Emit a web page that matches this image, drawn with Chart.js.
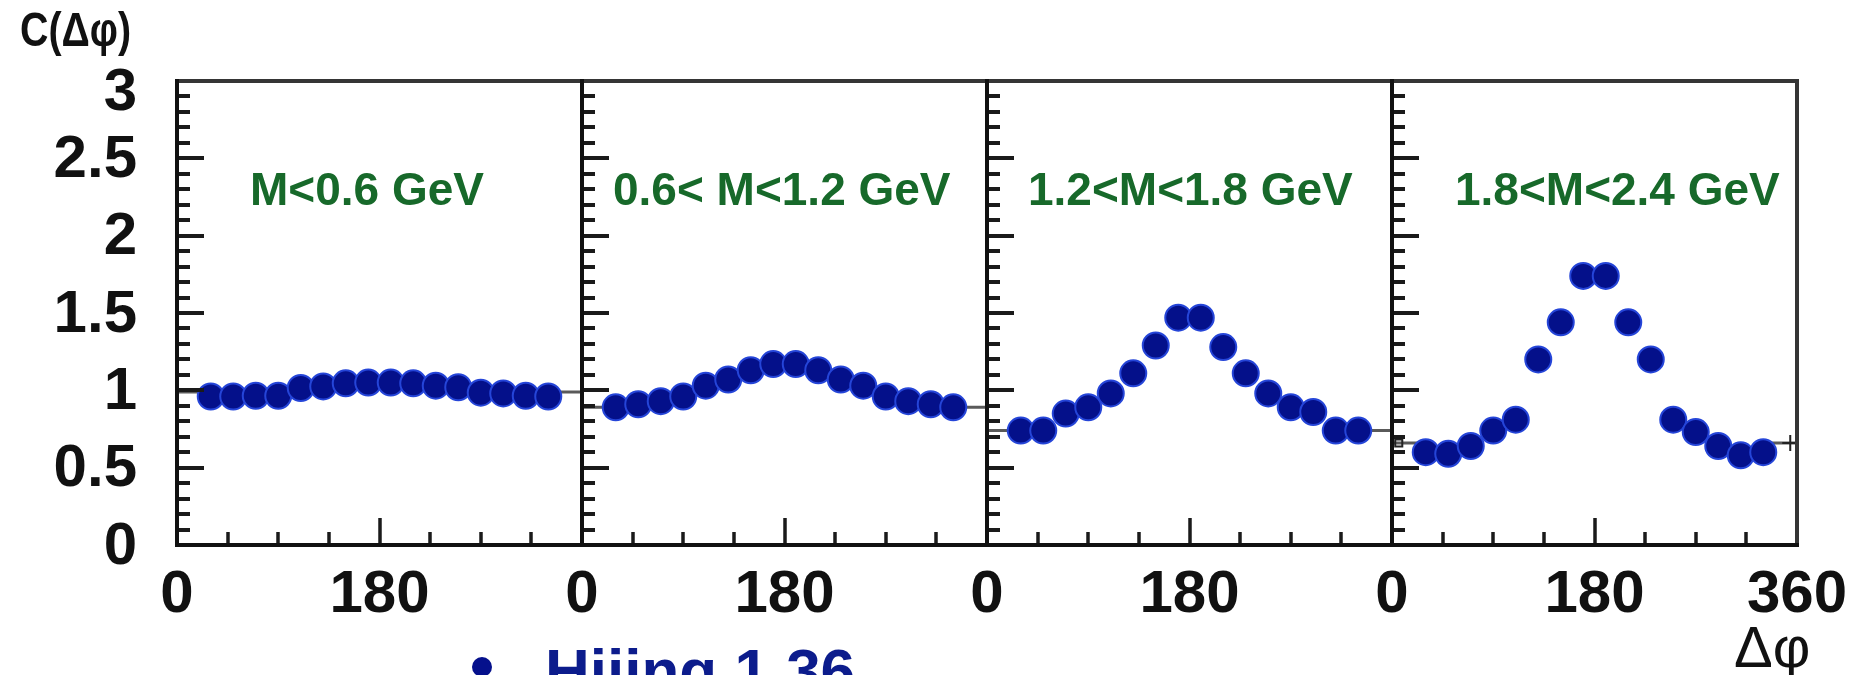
<!DOCTYPE html>
<html>
<head>
<meta charset="utf-8">
<title>C(Δφ) vs Δφ</title>
<script src="https://cdn.jsdelivr.net/npm/chart.js@4.4.1/dist/chart.umd.min.js"></script>
<style>
    html, body { margin: 0; padding: 0; background: #fff; }
    #wrap { position: relative; width: 1871px; height: 675px; overflow: hidden; }
    #wrap canvas { position: absolute; left: 0; top: 0; }
    .txt { position: absolute; font-family: "Liberation Sans", Arial, sans-serif; white-space: nowrap; line-height: 1; }
    #ytitle { left: 20px; top: 6px; font-size: 48px; font-weight: bold; color: #111; transform: scaleX(0.82); transform-origin: left top; }
    #xtitle { left: 1734px; top: 618px; font-size: 58px; color: #111; }
    #legend { left: 545px; top: 640px; font-weight: bold; font-size: 62px; color: #0c1c8c; }
    #legdot { position: absolute; left: 472px; top: 657px; width: 20px; height: 20px; border-radius: 50%; background: #05108c; }
</style>
</head>
<body>
<div id="wrap">
    <canvas id="p0" width="1871" height="675"></canvas>
    <canvas id="p1" width="1871" height="675"></canvas>
    <canvas id="p2" width="1871" height="675"></canvas>
    <canvas id="p3" width="1871" height="675"></canvas>
    <div class="txt" id="ytitle">C(Δφ)</div>
    <div class="txt" id="xtitle">Δφ</div>
    <div id="legdot"></div>
    <div class="txt" id="legend">Hijing 1.36</div>
</div>
<script>
// bin centres in degrees
const dphi = [30, 50, 70, 90, 110, 130, 150, 170, 190, 210, 230, 250, 270, 290, 310, 330];

const massBins = ["M<0.6 GeV", "0.6< M<1.2 GeV", "1.2<M<1.8 GeV", "1.8<M<2.4 GeV"];

const corrM1 = [0.96, 0.96, 0.965, 0.965, 1.015, 1.025, 1.045, 1.05, 1.05, 1.045, 1.03, 1.02, 0.985, 0.98, 0.965, 0.96];
const corrM2 = [0.89, 0.91, 0.93, 0.96, 1.03, 1.07, 1.13, 1.17, 1.17, 1.13, 1.07, 1.03, 0.96, 0.93, 0.91, 0.89];
const corrM3 = [0.74, 0.74, 0.85, 0.89, 0.98, 1.11, 1.29, 1.47, 1.47, 1.28, 1.11, 0.98, 0.89, 0.86, 0.74, 0.74];
const corrM4 = [0.60, 0.59, 0.64, 0.74, 0.81, 1.20, 1.44, 1.74, 1.74, 1.44, 1.20, 0.81, 0.73, 0.64, 0.58, 0.60];

// flat level drawn at the edges of each panel
const baseLevels = [0.99, 0.89, 0.74, 0.66];

const yTickLabels = ["0", "0.5", "1", "1.5", "2", "2.5", "3"];
const xTickLabels = ["0", "180", "360"];

const series = [corrM1, corrM2, corrM3, corrM4];

// page layout
const W = 1871, H = 675;
const panelLeft = [177, 582, 987, 1392];
const panelW = 405;
const TOP = 81, BOTTOM = 545;
const massLabelX = [250, 613, 1028, 1455];

const FONT = '"Liberation Sans", Arial, sans-serif';

const framePlugin = {
    id: 'frame',
    afterDatasetsDraw(chart, args, opts) {
        const ctx = chart.ctx;
        const xs = chart.scales.x, ys = chart.scales.y;
        const a = chart.chartArea;
        ctx.save();

        // y ticks, pointing into the panel from the left axis
        ctx.strokeStyle = '#1a1a1a';
        ctx.lineWidth = 4;
        for (let i = 1; i < 30; i++) {
            const py = Math.round(ys.getPixelForValue(i / 10));
            const len = (i % 5 === 0) ? 27 : 13;
            ctx.beginPath();
            ctx.moveTo(a.left, py);
            ctx.lineTo(a.left + len, py);
            ctx.stroke();
        }
        // x ticks every 45 deg
        ctx.lineWidth = 3.5;
        for (let d = 45; d < 360; d += 45) {
            const px = Math.round(xs.getPixelForValue(d));
            const len = (d === 180) ? 27 : 13;
            ctx.beginPath();
            ctx.moveTo(px, a.bottom);
            ctx.lineTo(px, a.bottom - len);
            ctx.stroke();
        }

        // frame
        ctx.lineWidth = 4;
        ctx.strokeStyle = '#353535';
        ctx.beginPath();
        ctx.moveTo(a.left, a.top);
        ctx.lineTo(a.right, a.top);
        ctx.lineTo(a.right, a.bottom);
        ctx.stroke();
        ctx.strokeStyle = '#111';
        ctx.beginPath();
        ctx.moveTo(a.left, a.top - 2);
        ctx.lineTo(a.left, a.bottom);
        ctx.lineTo(a.right + 2, a.bottom);
        ctx.stroke();

        // tick labels
        ctx.fillStyle = '#111';
        ctx.font = 'bold 60px ' + FONT;
        ctx.textAlign = 'center';
        ctx.textBaseline = 'alphabetic';
        xTickLabels.forEach(t => {
            const v = parseFloat(t);
            if (v === 360 && !opts.last) return;
            ctx.fillText(t, xs.getPixelForValue(v), 612);
        });
        if (opts.first) {
            ctx.textAlign = 'right';
            ctx.textBaseline = 'middle';
            yTickLabels.forEach(t => {
                const py = Math.max(ys.getPixelForValue(parseFloat(t)), a.top + 10);
                ctx.fillText(t, 137, py + 2);
            });
        }

        // mass bin label
        ctx.fillStyle = '#17692a';
        ctx.font = 'bold 46px ' + FONT;
        ctx.textAlign = 'left';
        ctx.textBaseline = 'alphabetic';
        ctx.fillText(opts.label, opts.labelX, 205);

        ctx.restore();
    }
};

series.forEach((vals, k) => {
    const L = panelLeft[k];
    const b = baseLevels[k];
    const points = dphi.map((x, i) => ({ x: x, y: vals[i] }));
    const edge = [
        { x: 0, y: b }, { x: dphi[0], y: b }, { x: 180, y: null },
        { x: dphi[dphi.length - 1], y: b }, { x: 360, y: b }
    ];
    const datasets = [
        {
            data: points,
            pointRadius: 13,
            pointHoverRadius: 13,
            backgroundColor: '#04108a',
            borderColor: '#2545d8',
            borderWidth: 2,
            order: 1
        },
        {
            data: edge,
            showLine: true,
            spanGaps: false,
            pointRadius: 0,
            borderColor: '#5a5a5a',
            borderWidth: 3,
            order: 2
        }
    ];
    if (k === series.length - 1) {
        datasets.push({
            data: [{ x: 6, y: b }, { x: 354, y: b }],
            pointStyle: ['rect', 'cross'],
            pointRadius: [5, 8],
            backgroundColor: 'rgba(0,0,0,0)',
            borderColor: '#222',
            borderWidth: 2,
            order: 0
        });
    }

    new Chart(document.getElementById('p' + k), {
        type: 'scatter',
        data: { datasets: datasets },
        options: {
            responsive: false,
            animation: false,
            events: [],
            layout: {
                padding: { left: L, right: W - L - panelW, top: TOP, bottom: H - BOTTOM }
            },
            scales: {
                x: { type: 'linear', min: 0, max: 360, display: false },
                y: { type: 'linear', min: 0, max: 3, display: false }
            },
            plugins: {
                legend: { display: false },
                tooltip: { enabled: false },
                frame: {
                    first: k === 0,
                    last: k === series.length - 1,
                    label: massBins[k],
                    labelX: massLabelX[k]
                }
            }
        },
        plugins: [framePlugin]
    });
});
</script>
</body>
</html>
